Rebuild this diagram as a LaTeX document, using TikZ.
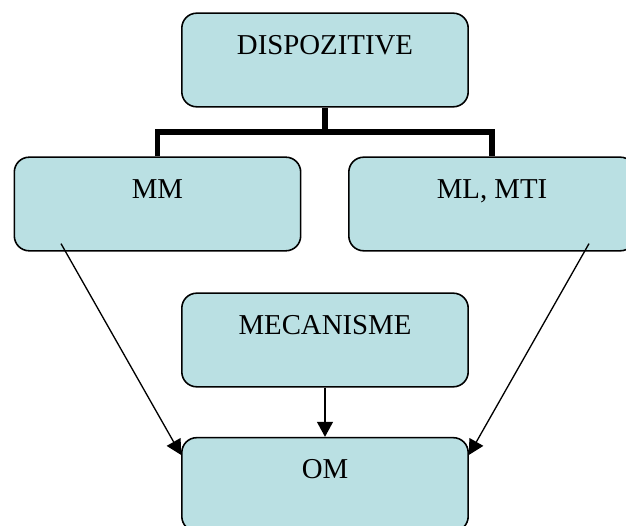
\documentclass[tikz,border=0pt]{standalone}
\usepackage{fontspec}
\setmainfont{Liberation Serif}
\definecolor{boxfill}{RGB}{186, 224, 227}
\usetikzlibrary{arrows.meta, calc}

\begin{document}
\begin{tikzpicture}[x=0.02cm, y=-0.02cm,
  blok/.style={draw=black, line width=0.9pt, fill=boxfill, rounded corners=8.5pt,
    minimum width=163pt, minimum height=53.3pt, inner sep=0pt,
    text height=11pt, text depth=17.8pt, font=\fontsize{16.4}{20}\selectfont},
  ramura/.style={line width=3.4pt},
  sageata/.style={line width=0.75pt, -{Triangle[length=8.5pt, width=9pt]}}]
  \clip (0,0) rectangle (626,526);

  % Boxes
  \node[blok] (disp) at (325, 60) {DISPOZITIVE};
  \node[blok] (mm)   at (157.5, 204) {MM};
  \node[blok] (ml)   at (492, 204) {ML, MTI};
  \node[blok] (mec)  at (325, 340) {MECANISME};
  \node[blok] (om)   at (325, 484.5) {OM};

  % Tree under DISPOZITIVE
  \coordinate (fork) at (325, 132);
  \draw[ramura] (disp.south) -- (fork);
  \draw[ramura] (mm.north) |- (fork) -| (ml.north);

  % Arrows into OM
  \coordinate (mmout) at ($(mm.south)+(-96.5,-8)$);
  \coordinate (mlout) at ($(ml.south)+(97,-8)$);
  \draw[sageata] (mmout) -- ($(om.north west)+(0,18)$);
  \draw[sageata] (mlout) -- ($(om.north east)+(0,18)$);
  \draw[sageata] (mec.south) -- (om.north);
\end{tikzpicture}
\end{document}
